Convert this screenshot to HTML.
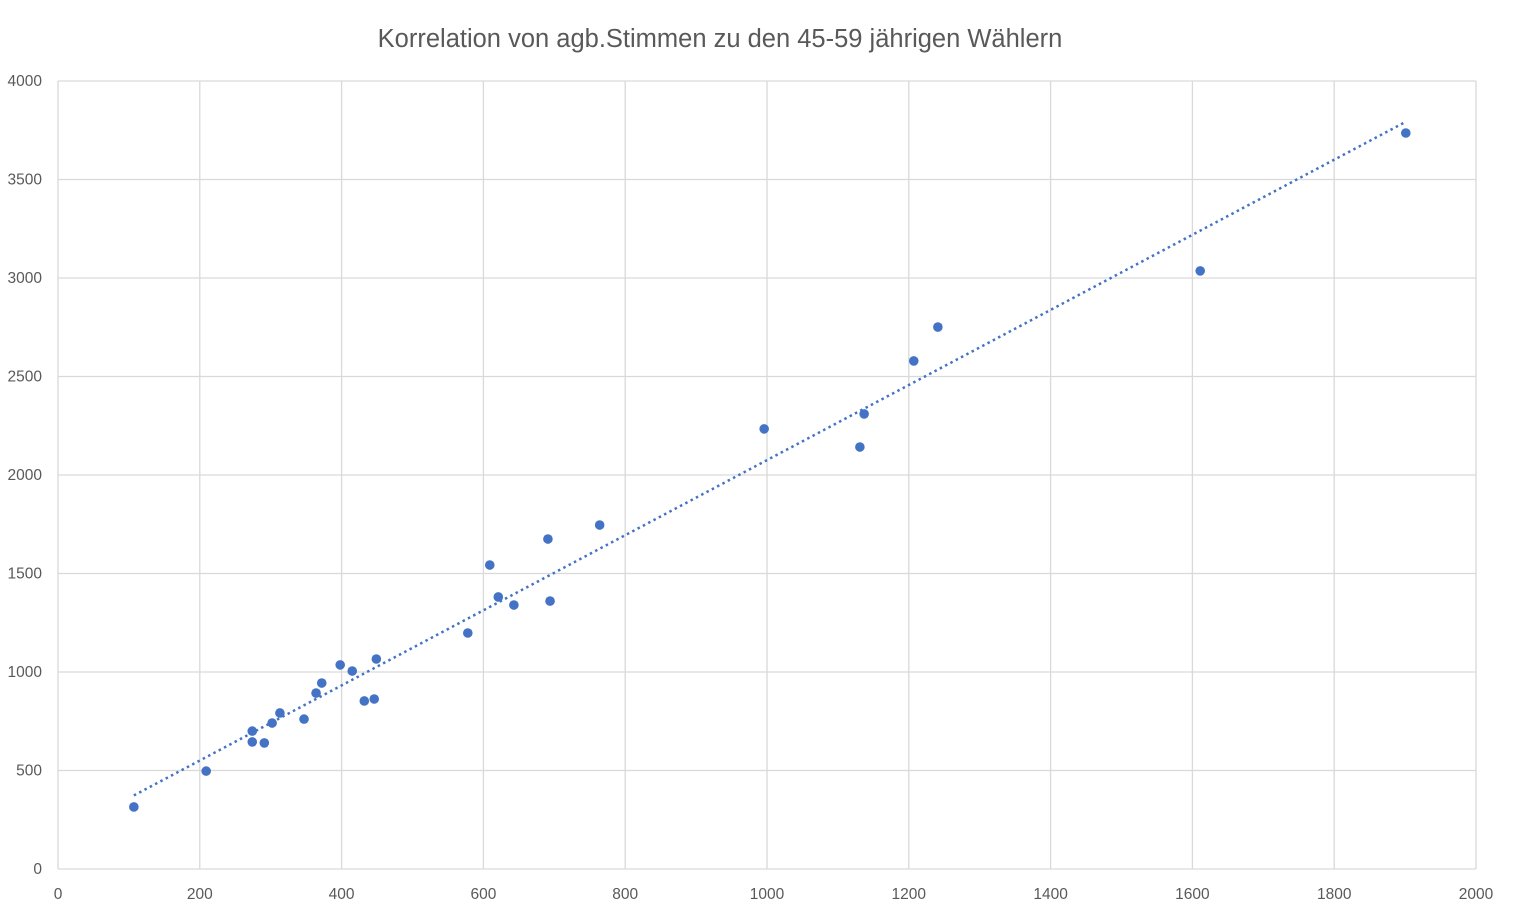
<!DOCTYPE html>
<html><head><meta charset="utf-8"><style>
body{margin:0;background:#fff;font-family:"Liberation Sans",sans-serif}
svg{display:block}
</style></head><body>
<svg id="chart" width="1519" height="917">
<text x="720" y="47" text-anchor="middle" font-size="25.5" fill="#595959">Korrelation von agb.Stimmen zu den 45-59 jährigen Wählern</text>
<g id="grid"></g><g id="trend"></g><g id="pts"></g>
</svg>
<script>
const xVals=[107,209,274,274,291,302,313,347,364,372,398,415,432,446,449,578,609,621,643,691,694,764,996,1131,1137,1207,1241,1611,1901];
const yVals=[315,497,700,645,640,741,792,761,893,944,1036,1005,853,863,1066,1198,1543,1381,1340,1675,1360,1746,2234,2142,2310,2579,2751,3036,3736];
const xTicks=[0,200,400,600,800,1000,1200,1400,1600,1800,2000];
const yTicks=[0,500,1000,1500,2000,2500,3000,3500,4000];
const NS="http://www.w3.org/2000/svg";
const X=v=>58+v*(1476-58)/2000, Y=v=>869-v*(869-81)/4000;
function mk(t,a,p){const e=document.createElementNS(NS,t);for(const k in a)e.setAttribute(k,a[k]);p.appendChild(e);return e;}
const g=document.getElementById('grid');
xTicks.forEach(v=>{const l=mk('line',{x1:X(v),x2:X(v),y1:81,y2:869,stroke:'#d9d9d9','stroke-width':1.3},g);


const t=mk('text',{x:X(v),y:899,'text-anchor':'middle','font-size':15.5,fill:'#595959'},g);t.textContent=v;

});
yTicks.forEach(v=>{const l=mk('line',{x1:58,x2:1476,y1:Y(v),y2:Y(v),stroke:'#d9d9d9','stroke-width':1.3},g);


const t=mk('text',{x:42,y:Y(v)+5,'text-anchor':'end','font-size':15.5,fill:'#595959'},g);t.textContent=v;

});
const n=xVals.length;let sx=0,sy=0,sxx=0,sxy=0;
for(let i=0;i<n;i++){sx+=xVals[i];sy+=yVals[i];sxx+=xVals[i]*xVals[i];sxy+=xVals[i]*yVals[i];}
const m=(n*sxy-sx*sy)/(n*sxx-sx*sx),b=(sy-m*sx)/n;
const x0=Math.min(...xVals),x1=Math.max(...xVals);
const tl=mk('line',{x1:X(x0),y1:Y(m*x0+b),x2:X(x1),y2:Y(m*x1+b),stroke:'#4472c4','stroke-width':2.5,'stroke-dasharray':'2.5 3.5'},document.getElementById('trend'));


const p=document.getElementById('pts');
for(let i=0;i<n;i++){const c=mk('circle',{cx:X(xVals[i]),cy:Y(yVals[i]),r:4.8,fill:'#4472c4'},p);

}
</script>
</body></html>
